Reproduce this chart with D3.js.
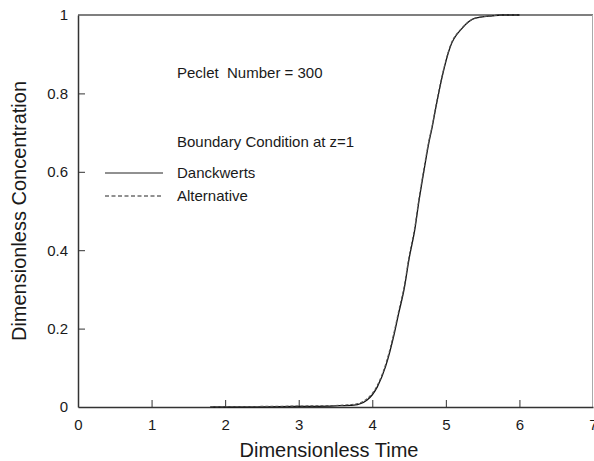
<!DOCTYPE html>
<html>
<head>
<meta charset="utf-8">
<script src="https://cdn.jsdelivr.net/npm/d3@7"></script>
<style>
  html, body { margin: 0; padding: 0; background: #fff; }
  svg { display: block; font-family: "Liberation Sans", Arial, sans-serif; }
</style>
</head>
<body>
<svg id="chart" width="594" height="461"></svg>
<script>
// ---- data ----
const timeDanckwerts = [1.8, 2.5, 3.0, 3.5, 3.75, 3.93, 4.07, 4.18, 4.30, 4.36, 4.43, 4.50, 4.58, 4.63, 4.70, 4.77, 4.81, 4.86, 4.95, 5.06, 5.22, 5.40, 5.63, 5.75, 6.0];
const concDanckwerts = [0, 0.0005, 0.0015, 0.003, 0.005, 0.018, 0.052, 0.103, 0.188, 0.240, 0.298, 0.378, 0.455, 0.52, 0.60, 0.675, 0.71, 0.76, 0.843, 0.919, 0.966, 0.992, 0.998, 1.0, 1.0];
const timeAlternative = [1.8, 2.5, 3.0, 3.5, 3.75, 3.93, 4.07, 4.18, 4.30, 4.36, 4.43, 4.50, 4.58, 4.63, 4.70, 4.77, 4.81, 4.86, 4.95, 5.06, 5.22, 5.40, 5.63, 5.75, 6.0];
const concAlternative = [0.001, 0.0015, 0.0025, 0.004, 0.007, 0.021, 0.056, 0.108, 0.194, 0.246, 0.304, 0.384, 0.461, 0.526, 0.606, 0.68, 0.714, 0.764, 0.846, 0.921, 0.967, 0.992, 0.998, 1.0, 1.0];
const xTicks = [0, 1, 2, 3, 4, 5, 6, 7];
const yTicks = [0, 0.2, 0.4, 0.6, 0.8, 1];
const seriesNames = ["Danckwerts", "Alternative"];

const svg = d3.select("#chart");
const margin = { left: 78, right: 1, top: 15, bottom: 54 };
const W = 594, H = 461;
const x = d3.scaleLinear().domain([0, 7]).range([margin.left, W - margin.right]);
const y = d3.scaleLinear().domain([0, 1]).range([H - margin.bottom, margin.top]);
const axisColor = "#333";
const textColor = "#1a1a1a";
const fontFam = '"Liberation Sans", Arial, sans-serif';

// frame: top and right lines
svg.append("line").attr("x1", x(0)).attr("x2", x(7)).attr("y1", y(1)).attr("y2", y(1))
  .attr("stroke", "#555").attr("stroke-width", 1.5);
svg.append("line").attr("x1", x(7) - 0.5).attr("x2", x(7) - 0.5).attr("y1", y(1)).attr("y2", y(0))
  .attr("stroke", "#aaa").attr("stroke-width", 1);

// x axis
const xAxis = svg.append("g").attr("transform", `translate(0,${y(0)})`)
  .call(d3.axisBottom(x).tickValues(xTicks).tickSizeInner(-7).tickSizeOuter(0).tickPadding(12).tickFormat(d3.format("d")));
// y axis
const yAxis = svg.append("g").attr("transform", `translate(${x(0)},0)`)
  .call(d3.axisLeft(y).tickValues(yTicks).tickSizeInner(-7).tickSizeOuter(0).tickPadding(10).tickFormat(d => d === 0 || d === 1 ? d3.format("d")(d) : d3.format(".1f")(d)));

[xAxis, yAxis].forEach(g => {
  g.select(".domain").attr("stroke", axisColor).attr("stroke-width", 1.5);
  g.selectAll(".tick line").attr("stroke", axisColor).attr("stroke-width", 1);
  g.selectAll(".tick text").attr("fill", textColor).style("font-size", "15px").style("font-family", fontFam);
});
// hide end tick marks at axis corners
xAxis.selectAll(".tick").filter(d => d === 0 || d === 7).select("line").remove();
yAxis.selectAll(".tick").filter(d => d === 0 || d === 1).select("line").remove();

// axis titles
svg.append("text").attr("x", 329).attr("y", 457).attr("text-anchor", "middle")
  .style("font-size", "20px").attr("fill", textColor).text("Dimensionless Time");
svg.append("text").attr("transform", `translate(26,${(y(0) + y(1)) / 2}) rotate(-90)`)
  .attr("text-anchor", "middle").style("font-size", "20px").attr("fill", textColor).text("Dimensionless Concentration");

// curves
const line = d3.line().x(d => x(d[0])).y(d => y(d[1])).curve(d3.curveMonotoneX);
const dataD = timeDanckwerts.map((t, i) => [t, concDanckwerts[i]]);
const dataA = timeAlternative.map((t, i) => [t, concAlternative[i]]);
svg.append("path").datum(dataD).attr("d", line).attr("fill", "none").attr("stroke", "#111").attr("stroke-width", 1.3);
svg.append("path").datum(dataA).attr("d", line).attr("fill", "none").attr("stroke", "#555").attr("stroke-width", 1.1).attr("stroke-dasharray", "3,2");

// annotations
svg.append("text").attr("x", 177).attr("y", 77.5).style("font-size", "15px").attr("fill", textColor)
  .style("white-space", "pre").text("Peclet  Number = 300");
svg.append("text").attr("x", 177).attr("y", 147).style("font-size", "15px").attr("fill", textColor).text("Boundary Condition at z=1");

// legend
const legendY = [173, 196];
const dashes = [null, "4,2.5"];
seriesNames.forEach((name, i) => {
  svg.append("line").attr("x1", 105).attr("x2", 163).attr("y1", legendY[i]).attr("y2", legendY[i])
    .attr("stroke", "#222").attr("stroke-width", 1).attr("stroke-dasharray", dashes[i]);
  svg.append("text").attr("x", 177).attr("y", legendY[i] + 5).style("font-size", "15px").attr("fill", textColor).text(name);
});
</script>
</body>
</html>
